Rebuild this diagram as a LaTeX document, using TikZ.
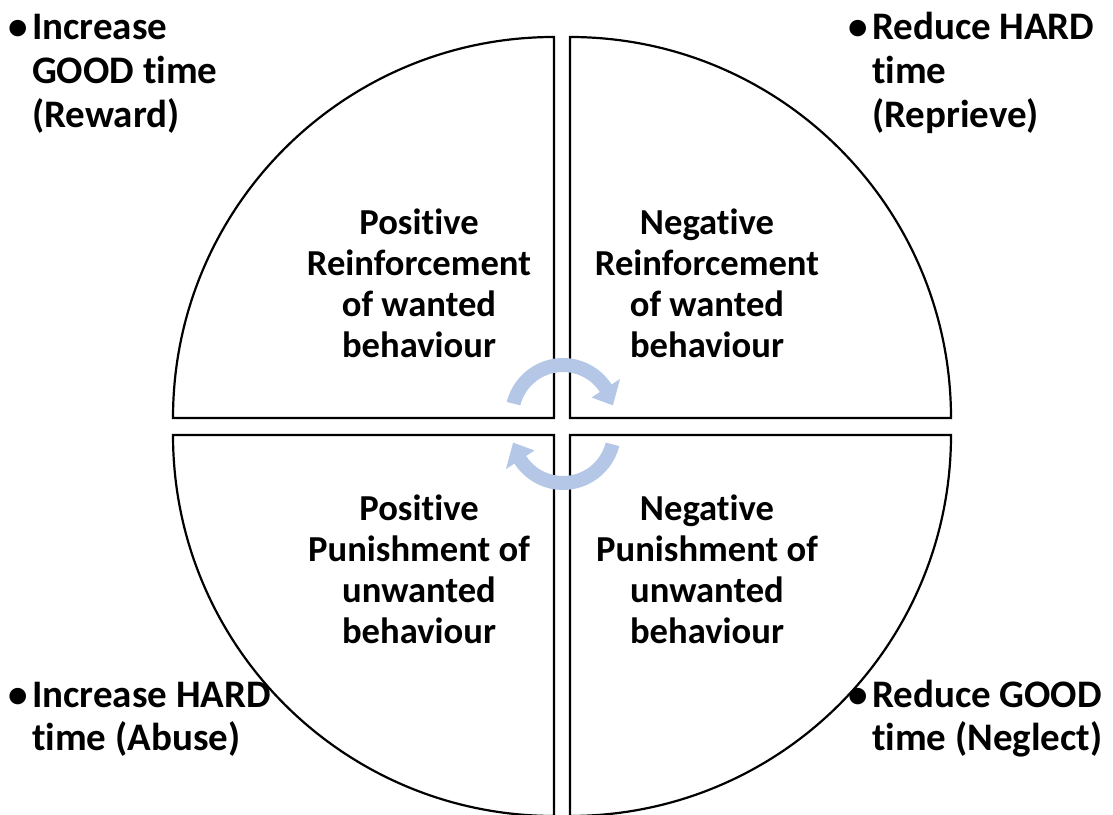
\documentclass[tikz,border=0pt]{standalone}
\usepackage{fontspec}
\setmainfont[Ligatures=NoCommon]{Carlito}
\usetikzlibrary{calc}
\definecolor{arrowblue}{RGB}{180,199,231}
\begin{document}
\begin{tikzpicture}[x=1pt,y=1pt,
  quad/.style={draw=black,line width=2.2pt,fill=white,line join=miter},
  cyc/.style={fill=arrowblue,draw=none},
  mid/.style={align=center,font=\bfseries\fontsize{36.6}{41}\selectfont,inner sep=0pt},
  corner/.style={anchor=base west,inner sep=0pt,font=\bfseries\fontsize{39}{43.8}\selectfont}]
\clip (0,0) rectangle (1113,814);
\fill[white] (0,0) rectangle (1113,814);
% quadrants
\draw[quad] (554,396) -- (554,777) arc[start angle=90,end angle=180,radius=381] -- cycle;
\draw[quad] (570,396) -- (570,777) arc[start angle=90,end angle=0,radius=381] -- cycle;
\draw[quad] (554,379) -- (554,-2) arc[start angle=270,end angle=180,radius=381] -- cycle;
\draw[quad] (570,379) -- (570,-2) arc[start angle=270,end angle=360,radius=381] -- cycle;
% circular arrows
\coordinate (ct) at (563,398);
\coordinate (cb) at (563,382);
\fill[cyc] ($(ct)+(166:58)$) arc[start angle=166,end angle=33,radius=58]
  -- ($(ct)+(33:68)$) -- ($(ct)+(12:51)$) -- ($(ct)+(33:34)$) -- ($(ct)+(33:44)$)
  arc[start angle=33,end angle=166,radius=44] -- cycle;
\fill[cyc] ($(cb)+(-14:58)$) arc[start angle=-14,end angle=-147,radius=58]
  -- ($(cb)+(-147:68)$) -- ($(cb)+(-168:51)$) -- ($(cb)+(-147:34)$) -- ($(cb)+(-147:44)$)
  arc[start angle=-147,end angle=-14,radius=44] -- cycle;
% quadrant labels
\node[mid] (tl) at (419,531) {Positive\\Reinforcement\\of wanted\\behaviour};
\node[mid] (tr) at (707,531) {Negative\\Reinforcement\\of wanted\\behaviour};
\node[mid] (bl) at (419,245) {Positive\\Punishment of\\unwanted\\behaviour};
\node[mid] (br) at (707,245) {Negative\\Punishment of\\unwanted\\behaviour};
% corner labels
\node[corner] (ctl) at (8,774) {\begin{tabular}[t]{@{}l@{\hspace{4.5pt}}l@{}}•&Increase\\&GOOD time\\&(Reward)\end{tabular}};
\node[corner] (ctr) at (848,774) {\begin{tabular}[t]{@{}l@{\hspace{4.5pt}}l@{}}•&Reduce HARD\\&time\\&(Reprieve)\end{tabular}};
\node[corner] (cbl) at (8,107) {\begin{tabular}[t]{@{}l@{\hspace{4.5pt}}l@{}}•&Increase HARD\\&time (Abuse)\end{tabular}};
\node[corner] (cbr) at (848,107) {\begin{tabular}[t]{@{}l@{\hspace{4.5pt}}l@{}}•&Reduce GOOD\\&time (Neglect)\end{tabular}};
\end{tikzpicture}
\end{document}
